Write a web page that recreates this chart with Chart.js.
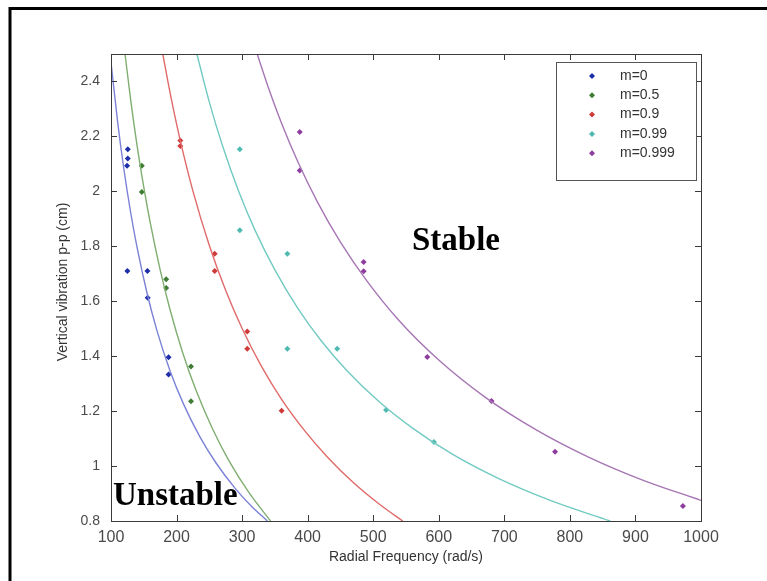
<!DOCTYPE html>
<html>
<head>
<meta charset="utf-8">
<script src="https://cdn.jsdelivr.net/npm/chart.js@4.4.0/dist/chart.umd.min.js"></script>
<style>
  html, body { margin: 0; padding: 0; background: #fff; }
  #wrap { width: 767px; height: 581px; position: relative; }
</style>
</head>
<body>
<div id="wrap"><canvas id="grafico" width="767" height="581"></canvas></div>
<script>
// assi
const xTicks = [100, 200, 300, 400, 500, 600, 700, 800, 900, 1000];
const yTicks = [0.8, 1, 1.2, 1.4, 1.6, 1.8, 2, 2.2, 2.4];

const nomiSerie = ['m=0', 'm=0.5', 'm=0.9', 'm=0.99', 'm=0.999'];
const coloriPunti = ['#1c2ea8', '#3f7d34', '#cf3b3b', '#4fbab2', '#8e3c9e'];
const coloriCurve = ['#7b82d6', '#7fae70', '#e06a6a', '#72cac3', '#a676b4'];

// punti misurati
const m0X = [125.6, 125.6, 124.5, 125, 155.6, 156, 187.8, 187.8];
const m0Y = [2.153, 2.12, 2.093, 1.71, 1.71, 1.613, 1.396, 1.333];
const m05X = [147, 147, 184.2, 184.2, 222, 222];
const m05Y = [2.093, 1.998, 1.68, 1.648, 1.362, 1.236];
const m09X = [205.7, 205.7, 258.2, 258.2, 307.8, 307.8, 360.3];
const m09Y = [2.185, 2.165, 1.773, 1.71, 1.49, 1.427, 1.201];
const m099X = [296.5, 296.5, 369, 369, 445, 519.6, 592.6];
const m099Y = [2.153, 1.858, 1.773, 1.427, 1.427, 1.204, 1.088];
const m0999X = [387.9, 387.9, 485.4, 485.4, 582.4, 680.4, 777.4, 972.4];
const m0999Y = [2.216, 2.076, 1.743, 1.709, 1.397, 1.237, 1.052, 0.855];

// curve di stabilita'
const c0X = [100, 110, 120, 130, 140, 155, 170, 190, 210, 235, 260, 290, 315, 338.6];
const c0Y = [2.47, 2.255, 2.075, 1.923, 1.793, 1.629, 1.494, 1.347, 1.229, 1.109, 1.012, 0.917, 0.852, 0.8];
const c05X = [121.4, 130, 140, 150, 160, 175, 190, 210, 230, 255, 280, 310, 343.4];
const c05Y = [2.5, 2.333, 2.163, 2.015, 1.884, 1.714, 1.57, 1.408, 1.274, 1.135, 1.019, 0.905, 0.8];
const c09X = [179, 190, 205, 225, 250, 275, 300, 330, 360, 395, 430, 470, 510, 545];
const c09Y = [2.5, 2.36, 2.192, 2.001, 1.803, 1.639, 1.501, 1.361, 1.244, 1.13, 1.033, 0.939, 0.86, 0.8];
const c099X = [231, 250, 270, 295, 320, 350, 385, 420, 460, 510, 560, 620, 690, 770, 861.6];
const c099Y = [2.5, 2.325, 2.167, 1.999, 1.857, 1.714, 1.574, 1.458, 1.347, 1.232, 1.138, 1.044, 0.956, 0.875, 0.8];
const c0999X = [323, 340, 360, 385, 415, 450, 490, 540, 600, 670, 750, 830, 910, 1000];
const c0999Y = [2.5, 2.378, 2.249, 2.108, 1.961, 1.815, 1.675, 1.528, 1.386, 1.252, 1.13, 1.031, 0.95, 0.875];

const puntiX = [m0X, m05X, m09X, m099X, m0999X];
const puntiY = [m0Y, m05Y, m09Y, m099Y, m0999Y];
const curveX = [c0X, c05X, c09X, c099X, c0999X];
const curveY = [c0Y, c05Y, c09Y, c099Y, c0999Y];

function coppie(xs, ys) {
  return xs.map((x, i) => ({ x: x, y: ys[i] }));
}

const datasets = [];
curveX.forEach((xs, i) => {
  datasets.push({
    label: 'curva ' + nomiSerie[i],
    data: coppie(xs, curveY[i]),
    showLine: true,
    borderColor: coloriCurve[i],
    borderWidth: 1.4,
    pointRadius: 0,
    cubicInterpolationMode: 'monotone',
    fill: false
  });
});
puntiX.forEach((xs, i) => {
  datasets.push({
    label: nomiSerie[i],
    data: coppie(xs, puntiY[i]),
    showLine: false,
    pointStyle: 'rectRot',
    pointRadius: 3,
    pointBackgroundColor: coloriPunti[i],
    pointBorderColor: coloriPunti[i],
    pointBorderWidth: 0
  });
});

// cornice, tacche interne, legenda, scritte
const decorazioni = {
  id: 'decorazioni',
  afterDraw(chart) {
    const ctx = chart.ctx;
    const a = chart.chartArea;
    const sx = chart.scales.x;
    const sy = chart.scales.y;
    ctx.save();

    // box assi
    ctx.strokeStyle = '#3a3a3a';
    ctx.lineWidth = 1;
    ctx.strokeRect(a.left + 0.5, a.top + 0.5, a.right - a.left, a.bottom - a.top);

    ctx.beginPath();
    xTicks.forEach(v => {
      const px = Math.round(sx.getPixelForValue(v)) + 0.5;
      ctx.moveTo(px, a.bottom); ctx.lineTo(px, a.bottom - 6);
      ctx.moveTo(px, a.top); ctx.lineTo(px, a.top + 6);
    });
    yTicks.forEach(v => {
      const py = Math.round(sy.getPixelForValue(v)) + 0.5;
      ctx.moveTo(a.left, py); ctx.lineTo(a.left + 6, py);
      ctx.moveTo(a.right, py); ctx.lineTo(a.right - 6, py);
    });
    ctx.stroke();

    // legenda
    const lx = 556, ly = 62, lw = 140, lh = 118;
    ctx.fillStyle = '#fff';
    ctx.fillRect(lx, ly, lw, lh);
    ctx.strokeStyle = '#555';
    ctx.strokeRect(lx + 0.5, ly + 0.5, lw, lh);
    ctx.font = '14px "Liberation Sans", Arial, sans-serif';
    ctx.textBaseline = 'middle';
    ctx.textAlign = 'left';
    nomiSerie.forEach((n, i) => {
      const yy = 76 + i * 19.3;
      ctx.fillStyle = coloriPunti[i];
      ctx.beginPath();
      ctx.moveTo(592, yy - 3); ctx.lineTo(595, yy); ctx.lineTo(592, yy + 3); ctx.lineTo(589, yy);
      ctx.closePath();
      ctx.fill();
      ctx.fillStyle = '#333';
      ctx.fillText(n, 620, yy);
    });

    // titoli assi
    ctx.fillStyle = '#333';
    ctx.font = '14px "Liberation Sans", Arial, sans-serif';
    ctx.textAlign = 'center';
    ctx.textBaseline = 'middle';
    ctx.fillText('Radial Frequency (rad/s)', (a.left + a.right) / 2, 557);
    ctx.save();
    ctx.translate(63, 282);
    ctx.rotate(-Math.PI / 2);
    ctx.fillText('Vertical vibration p-p (cm)', 0, 0);
    ctx.restore();

    // zone
    ctx.fillStyle = '#000';
    ctx.font = 'bold 33px "Liberation Serif", "DejaVu Serif", serif';
    ctx.textAlign = 'left';
    ctx.textBaseline = 'alphabetic';
    ctx.fillText('Stable', 412, 250);
    ctx.fillText('Unstable', 113, 505);

    // cornice esterna
    ctx.strokeStyle = '#000';
    ctx.lineWidth = 3;
    ctx.strokeRect(10, 8.5, 800, 600);
    ctx.restore();
  }
};

const ctx = document.getElementById('grafico').getContext('2d');
new Chart(ctx, {
  type: 'scatter',
  data: { datasets: datasets },
  options: {
    responsive: false,
    animation: false,
    devicePixelRatio: 1,
    layout: { padding: { left: 0, top: 54, right: 66, bottom: 0 } },
    plugins: {
      legend: { display: false },
      tooltip: { enabled: false }
    },
    scales: {
      x: {
        type: 'linear',
        min: 100,
        max: 1000,
        afterFit: s => { s.height = 60; },
        afterBuildTicks: s => { s.ticks = xTicks.map(v => ({ value: v })); },
        grid: { display: false, drawTicks: false },
        border: { display: false },
        ticks: {
          padding: 7,
          color: '#4a4a4a',
          font: { family: '"Liberation Sans", Arial, sans-serif', size: 16 },
          maxRotation: 0,
          autoSkip: false,
          callback: v => String(v)
        }
      },
      y: {
        type: 'linear',
        min: 0.8,
        max: 2.5,
        afterFit: s => { s.width = 111; },
        afterBuildTicks: s => { s.ticks = yTicks.map(v => ({ value: v })); },
        grid: { display: false, drawTicks: false },
        border: { display: false },
        ticks: {
          padding: 11,
          color: '#4a4a4a',
          font: { family: '"Liberation Sans", Arial, sans-serif', size: 14 },
          autoSkip: false,
          callback: v => String(Math.round(v * 10) / 10)
        }
      }
    }
  },
  plugins: [decorazioni]
});
</script>
</body>
</html>
